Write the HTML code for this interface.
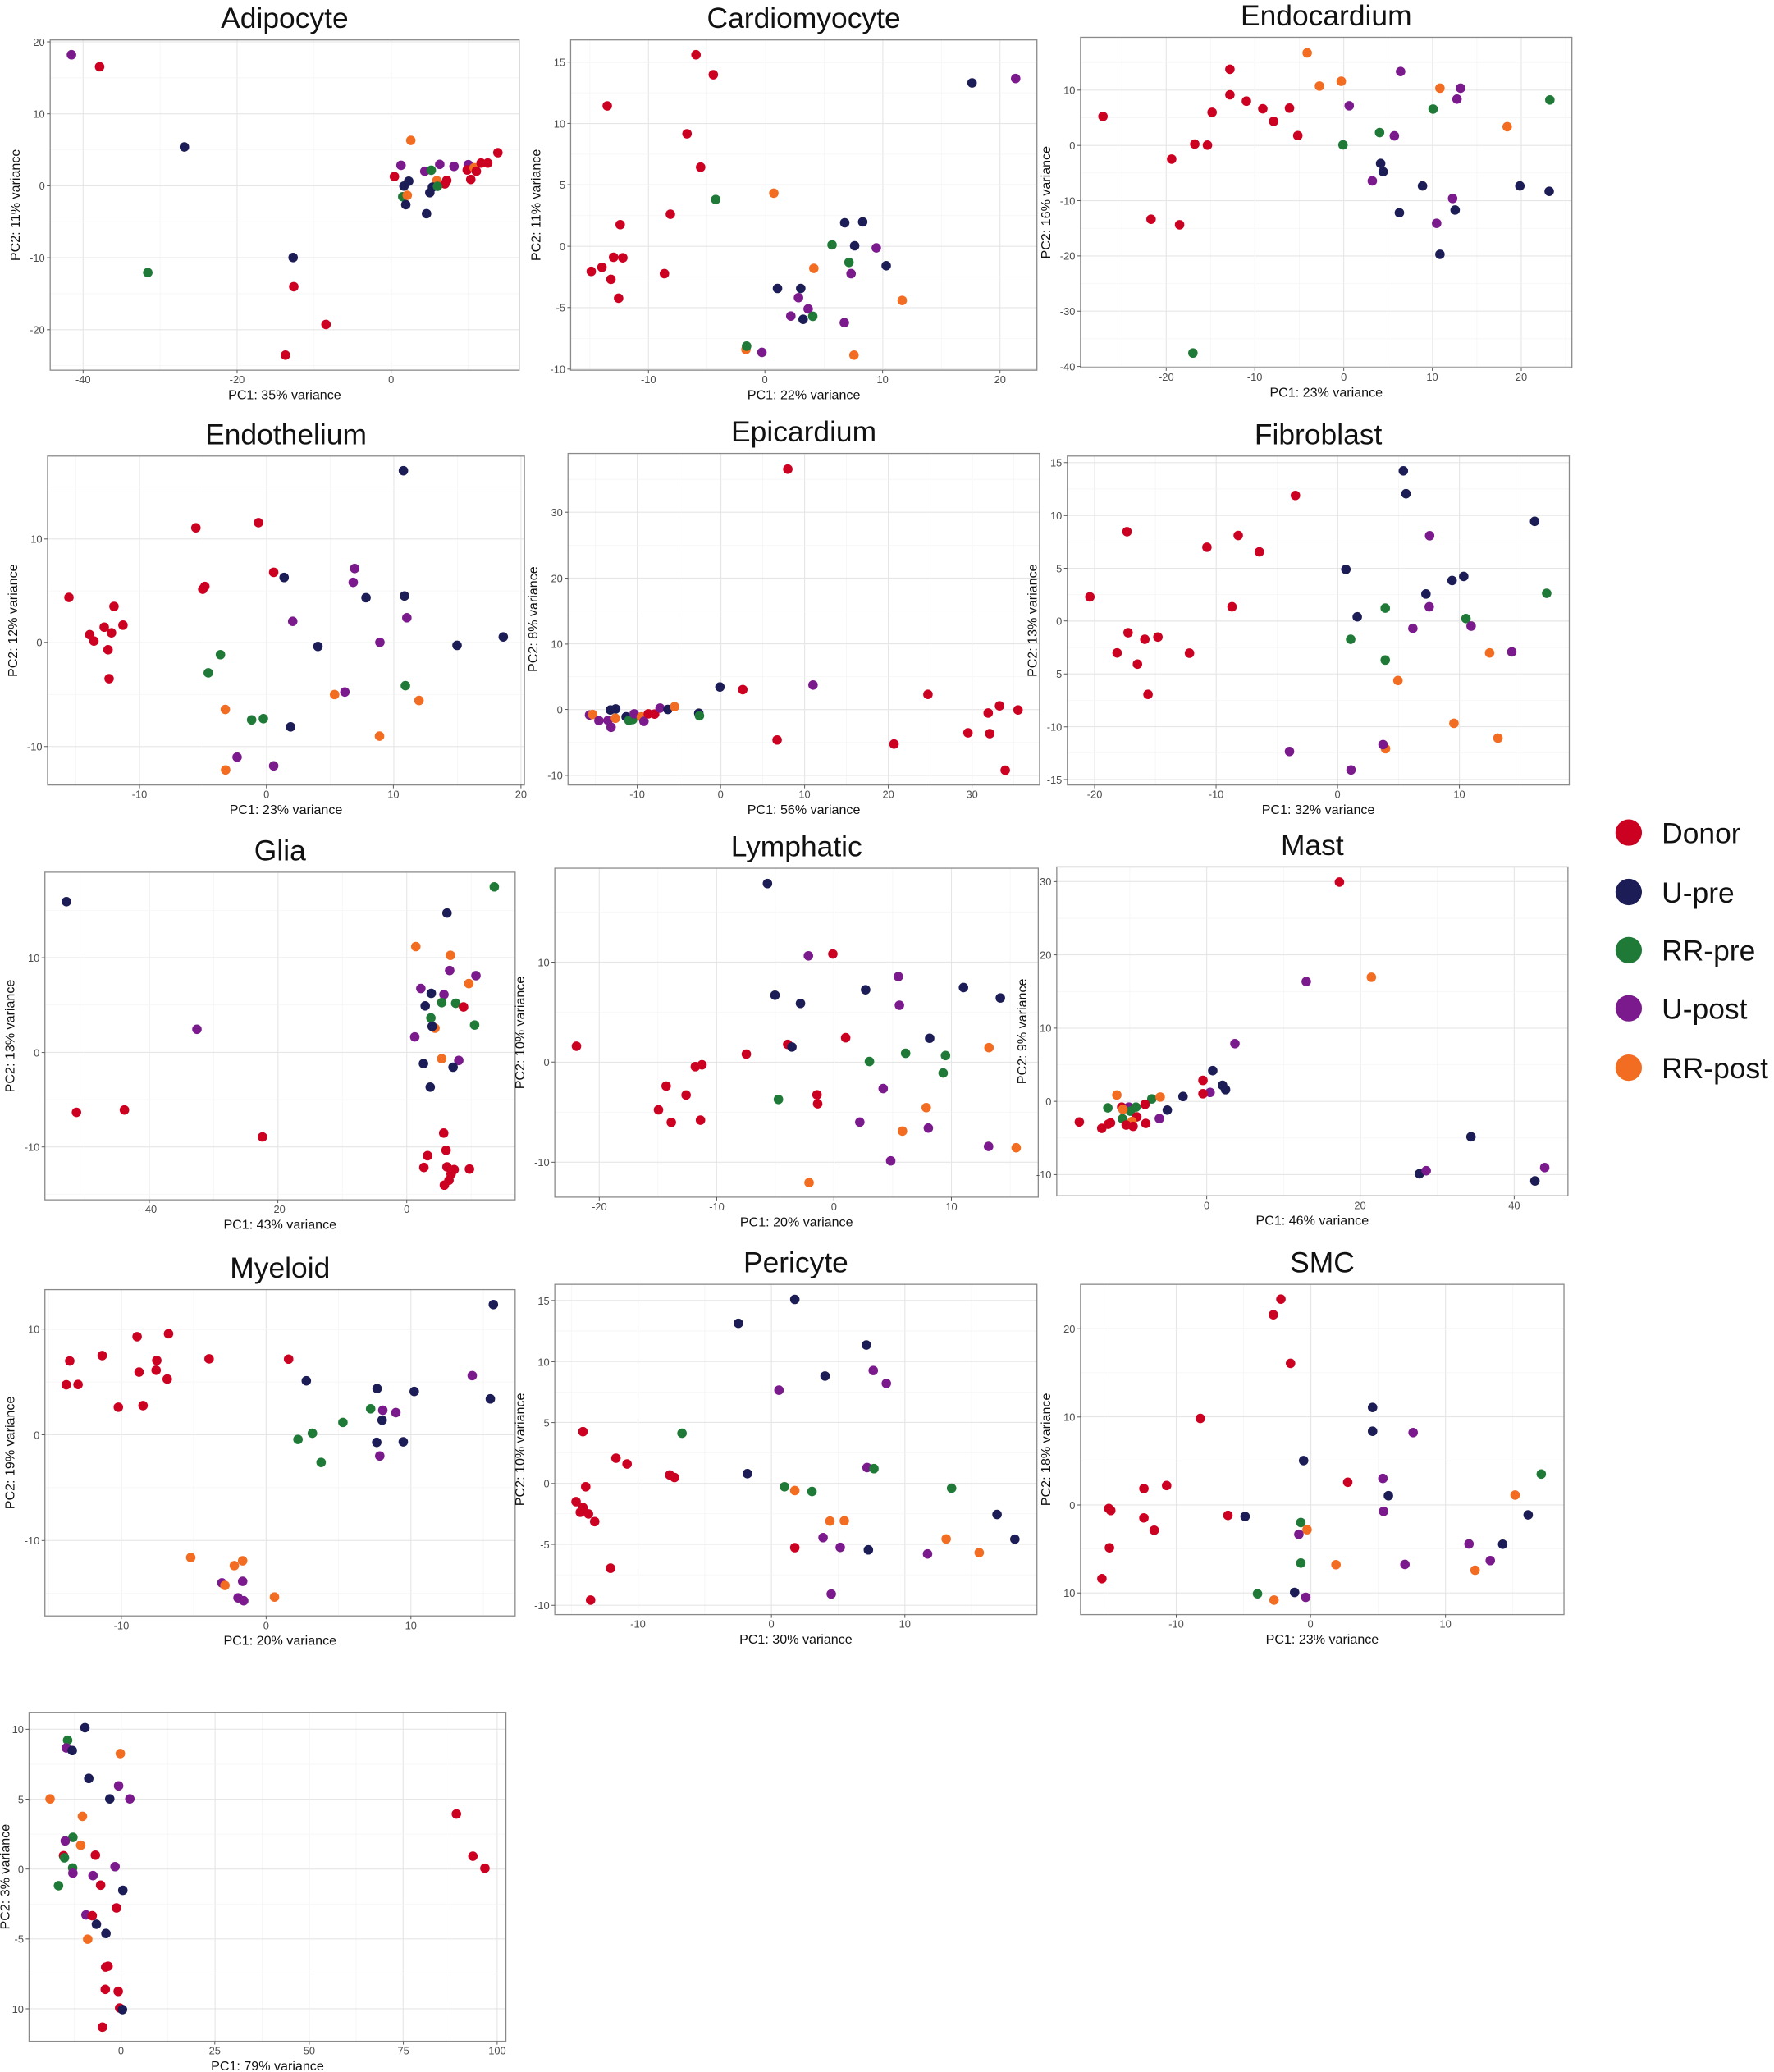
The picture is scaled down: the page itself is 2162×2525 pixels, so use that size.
<!DOCTYPE html>
<html><head><meta charset="utf-8">
<style>
html,body{margin:0;padding:0;background:#fff;}
svg{display:block;font-family:"Liberation Sans",Arial,sans-serif;}
.ti{font-size:22px;fill:#111;text-anchor:middle;}
.xl,.yl{font-size:10px;fill:#111;text-anchor:middle;}
.xt{font-size:8px;fill:#4d4d4d;text-anchor:middle;}
.yt{font-size:8px;fill:#4d4d4d;text-anchor:end;}
.lg{font-size:22px;fill:#111;}
</style></head><body>
<svg id="s" xmlns="http://www.w3.org/2000/svg" width="2162" height="2525" viewBox="0 0 1343 1568">
<rect width="1343" height="1568" fill="#fff"/>
<g id="p0"><text class="ti">Adipocyte</text><text class="xl">PC1: 35% variance</text><text class="yl">PC2: 11% variance</text>
<text class="xt" x="228">-40</text><text class="xt" x="649">-20</text><text class="xt" x="1070">0</text>
<text class="yt" y="152">20</text><text class="yt" y="415">10</text><text class="yt" y="678">0</text><text class="yt" y="941">-10</text><text class="yt" y="1204">-20</text></g>
<g id="p1"><text class="ti">Cardiomyocyte</text><text class="xl">PC1: 22% variance</text><text class="yl">PC2: 11% variance</text>
<text class="xt" x="377">-10</text><text class="xt" x="727">0</text><text class="xt" x="1081">10</text><text class="xt" x="1434">20</text>
<text class="yt" y="226">15</text><text class="yt" y="450">10</text><text class="yt" y="674">5</text><text class="yt" y="899">0</text><text class="yt" y="1123">-5</text><text class="yt" y="1348">-10</text></g>
<g id="p2"><text class="ti">Endocardium</text><text class="xl">PC1: 23% variance</text><text class="yl">PC2: 16% variance</text>
<text class="xt" x="370">-20</text><text class="xt" x="615">-10</text><text class="xt" x="861">0</text><text class="xt" x="1106">10</text><text class="xt" x="1352">20</text>
<text class="yt" y="326">10</text><text class="yt" y="528">0</text><text class="yt" y="730">-10</text><text class="yt" y="932">-20</text><text class="yt" y="1134">-30</text><text class="yt" y="1336">-40</text></g>
<g id="p3"><text class="ti">Endothelium</text><text class="xl">PC1: 23% variance</text><text class="yl">PC2: 12% variance</text>
<text class="xt" x="407">-10</text><text class="xt" x="774">0</text><text class="xt" x="1141">10</text><text class="xt" x="1510">20</text>
<text class="yt" y="474">10</text><text class="yt" y="853">0</text><text class="yt" y="1235">-10</text></g>
<g id="p4"><text class="ti">Epicardium</text><text class="xl">PC1: 56% variance</text><text class="yl">PC2: 8% variance</text>
<text class="xt" x="340">-10</text><text class="xt" x="588">0</text><text class="xt" x="838">10</text><text class="xt" x="1087">20</text><text class="xt" x="1336">30</text>
<text class="yt" y="372">30</text><text class="yt" y="612">20</text><text class="yt" y="852">10</text><text class="yt" y="1090">0</text><text class="yt" y="1330">-10</text></g>
<g id="p5"><text class="ti">Fibroblast</text><text class="xl">PC1: 32% variance</text><text class="yl">PC2: 13% variance</text>
<text class="xt" x="233">-20</text><text class="xt" x="567">-10</text><text class="xt" x="901">0</text><text class="xt" x="1236">10</text>
<text class="yt" y="189">15</text><text class="yt" y="383">10</text><text class="yt" y="576">5</text><text class="yt" y="769">0</text><text class="yt" y="963">-5</text><text class="yt" y="1157">-10</text><text class="yt" y="1350">-15</text></g>
<g id="p6"><text class="ti">Glia</text><text class="xl">PC1: 43% variance</text><text class="yl">PC2: 13% variance</text>
<text class="xt" x="447">-40</text><text class="xt" x="830">-20</text><text class="xt" x="1214">0</text>
<text class="yt" y="471">10</text><text class="yt" y="819">0</text><text class="yt" y="1166">-10</text></g>
<g id="p7"><text class="ti">Lymphatic</text><text class="xl">PC1: 20% variance</text><text class="yl">PC2: 10% variance</text>
<text class="xt" x="259">-20</text><text class="xt" x="600">-10</text><text class="xt" x="940">0</text><text class="xt" x="1281">10</text>
<text class="yt" y="491">10</text><text class="yt" y="857">0</text><text class="yt" y="1224">-10</text></g>
<g id="p8"><text class="ti">Mast</text><text class="xl">PC1: 46% variance</text><text class="yl">PC2: 9% variance</text>
<text class="xt" x="556">0</text><text class="xt" x="964">20</text><text class="xt" x="1374">40</text>
<text class="yt" y="194">30</text><text class="yt" y="463">20</text><text class="yt" y="732">10</text><text class="yt" y="1001">0</text><text class="yt" y="1270">-10</text></g>
<g id="p9"><text class="ti">Myeloid</text><text class="xl">PC1: 20% variance</text><text class="yl">PC2: 19% variance</text>
<text class="xt" x="360">-10</text><text class="xt" x="792">0</text><text class="xt" x="1224">10</text>
<text class="yt" y="304">10</text><text class="yt" y="695">0</text><text class="yt" y="1086">-10</text></g>
<g id="p10"><text class="ti">Pericyte</text><text class="xl">PC1: 30% variance</text><text class="yl">PC2: 10% variance</text>
<text class="xt" x="184">-10</text><text class="xt" x="378">0</text><text class="xt" x="572">10</text>
<text class="yt" y="207">15</text><text class="yt" y="430">10</text><text class="yt" y="652">5</text><text class="yt" y="874">0</text><text class="yt" y="1096">-5</text><text class="yt" y="1318">-10</text></g>
<g id="p11"><text class="ti">SMC</text><text class="xl">PC1: 23% variance</text><text class="yl">PC2: 18% variance</text>
<text class="xt" x="987">-10</text><text class="xt" x="1182">0</text><text class="xt" x="1378">10</text>
<text class="yt" y="305">20</text><text class="yt" y="627">10</text><text class="yt" y="948">0</text><text class="yt" y="1269">-10</text></g>
<g id="p12"><text class="xl">PC1: 79% variance</text><text class="yl">PC2: 3% variance</text>
<text class="xt" x="369">0</text><text class="xt" x="636">25</text><text class="xt" x="905">50</text><text class="xt" x="1173">75</text><text class="xt" x="1440">100</text>
<text class="yt" y="142">10</text><text class="yt" y="398">5</text><text class="yt" y="654">0</text><text class="yt" y="910">-5</text><text class="yt" y="1166">-10</text></g>
<g id="legend">
<circle cx="1233" cy="630" r="10" fill="#cc0020"/><text class="lg" x="1258" y="638">Donor</text>
<circle cx="1233" cy="675" r="10" fill="#1c1c56"/><text class="lg" x="1258" y="683">U-pre</text>
<circle cx="1233" cy="719" r="10" fill="#1f7a37"/><text class="lg" x="1258" y="727">RR-pre</text>
<circle cx="1233" cy="763" r="10" fill="#7a1a8c"/><text class="lg" x="1258" y="771">U-post</text>
<circle cx="1233" cy="808" r="10" fill="#f26c22"/><text class="lg" x="1258" y="816">RR-post</text>
</g>
</svg>
<script>
(function(){
var NS='http://www.w3.org/2000/svg';
var COL={r:'#cc0020',n:'#1c1c56',g:'#1f7a37',p:'#7a1a8c',o:'#f26c22'};
var C=[
{D:[38,30,393,280],Z:[138,145,1420,1352],pts:"p196,199 r273,243 n505,536 o1124,512 r1362,557 p1097,603 p1162,625 g1180,621 p1203,600 p1242,607 p1281,601 r1278,620 o1297,612 r1303,625 r1316,595 r1334,595 r1079,644 n1118,661 n1105,679 o1195,659 r1222,658 r1217,671 r1288,655 n1183,683 g1197,680 n1176,703 g1102,718 o1114,713 n1110,747 n1167,780 n802,940 g405,995 r804,1047 r892,1185 r781,1297"},
{D:[432,30,785,280],Z:[143,145,1545,1352],pts:"r520,199 r572,272 r253,386 n1350,302 p1481,286 r493,488 r534,610 o754,705 g579,728 r443,782 r292,820 n967,813 n1021,810 g929,894 n997,897 p1062,905 r272,939 r300,941 g980,958 o874,980 n1092,970 p986,999 r205,991 r237,976 r264,1020 r425,999 r287,1089 n765,1053 n835,1053 p828,1087 o1140,1097 p857,1128 p805,1154 n842,1166 g871,1155 p966,1178 o670,1276 g672,1264 p718,1287 o995,1297"},
{D:[818,28,1190,278],Z:[133,133,1492,1340],pts:"o760,190 r546,250 p1018,258 o794,311 o854,294 o1127,319 p1184,319 r546,343 r592,366 p1174,359 g1431,362 p876,383 r637,394 r711,392 g1108,395 r195,422 r497,407 r667,440 o1313,460 g960,481 p1001,493 r734,492 r449,523 r484,527 g859,526 r385,578 n963,594 n970,624 p940,658 n1079,676 n1348,676 n1429,696 p1162,722 n1015,774 n1169,764 r328,798 r407,818 p1118,813 n1127,926 g444,1287"},
{D:[36,345,397,594],Z:[141,170,1520,1376],pts:"n1170,224 r751,414 r570,433 p1029,582 r795,596 n825,615 p1025,633 r596,648 r590,658 n1062,689 n1173,683 r203,688 r333,721 p1180,763 p850,776 r359,790 r305,797 r263,825 r326,818 r275,848 p1102,853 n1325,864 n1459,833 n923,868 r316,880 g641,898 g606,965 r319,986 g1176,1012 p1001,1035 o971,1044 o1215,1066 o655,1099 g731,1137 g765,1133 n844,1163 o1101,1197 p689,1274 p795,1306 o656,1321"},
{D:[430,343,787,594],Z:[134,158,1537,1365],pts:"r788,215 p863,1001 n586,1008 r654,1018 r1205,1035 r1418,1077 r1473,1092 r1384,1103 r1324,1175 r1389,1178 r756,1201 r1104,1216 r1435,1311 p198,1110 o207,1108 p226,1131 n260,1092 n276,1088 p253,1130 p262,1155 o275,1122 n307,1117 g315,1130 g326,1127 p331,1106 o352,1117 p360,1133 r373,1106 r392,1107 p408,1085 n431,1090 o451,1080 n523,1104 g525,1113"},
{D:[808,345,1188,594],Z:[158,165,1538,1370],pts:"n1082,219 n1089,303 r785,309 r322,442 n1443,404 r628,456 p1154,457 r542,499 r686,516 n924,580 n1216,621 n1248,606 n1144,670 g1476,668 r220,681 r611,717 g1032,722 p1153,717 n955,754 g1254,760 p1268,788 p1108,796 r325,812 r371,836 r407,828 g937,836 r295,886 r494,887 o1319,886 p1380,882 r351,927 g1032,912 o1067,987 r380,1038 o1221,1144 o1342,1198 o1033,1237 p1026,1222 p769,1247 p938,1315"},
{D:[34,660,390,908],Z:[136,157,1537,1360],pts:"n200,265 g1475,211 n1334,307 o1241,430 o1344,462 p1342,518 p1420,537 o1399,566 p1256,584 n1287,602 p1325,606 g1318,636 g1360,638 r1383,652 n1269,648 g1286,692 o1298,730 n1290,723 g1416,718 p589,734 p1238,762 o1318,842 p1369,848 n1264,860 n1352,873 n1284,946 r230,1039 r373,1030 r784,1129 r1324,1115 r1331,1178 r1276,1198 r1265,1241 r1334,1239 r1355,1249 r1401,1247 r1346,1265 r1340,1288 r1326,1306"},
{D:[420,657,786,906],Z:[130,147,1533,1352],pts:"n747,203 p866,468 r937,461 p1127,544 n1032,592 n1316,584 n769,612 n843,642 p1130,649 n1423,622 r974,768 n1218,770 r193,799 r806,792 n818,802 o1390,804 r686,828 g1148,825 g1264,833 g1043,855 r538,874 r557,867 g1257,897 r453,945 p1083,954 r511,978 r891,977 g779,994 r893,1010 r431,1032 o1208,1024 r553,1070 r468,1078 p1015,1077 p1214,1099 o1139,1110 p1389,1166 o1469,1171 p1105,1219 o868,1299"},
{D:[800,656,1187,905],Z:[157,140,1517,1348],pts:"r909,196 p821,561 o994,545 p631,789 n572,888 r546,924 n598,942 n606,958 p565,968 r546,973 n493,983 o317,978 g410,992 o432,985 r392,1012 g293,1025 r330,1022 p349,1022 g368,1022 g353,1037 o333,1030 n451,1033 r370,1058 p430,1064 g332,1065 o357,1075 r217,1077 r300,1080 r294,1085 r277,1100 r342,1088 r360,1093 r394,1082 n1259,1131 n1122,1267 p1140,1256 p1455,1244 n1429,1293"},
{D:[34,976,390,1223],Z:[132,158,1535,1365],pts:"n1470,213 r501,321 r407,332 r303,402 r206,422 r466,420 r622,414 r859,415 r464,456 r413,463 r497,489 p1407,476 r196,510 r231,509 n912,495 n1123,524 n1234,535 n1461,562 r351,593 r425,587 g1104,599 p1140,604 p1179,613 n1138,641 g1021,649 g930,689 g887,712 n1122,723 n1201,721 p1131,773 g956,797 o567,1149 o722,1161 o697,1179 p722,1237 p660,1243 o669,1252 o817,1295 p708,1298 p725,1309"},
{D:[420,972,785,1222],Z:[63,148,764,1352],pts:"n412,203 n330,290 n516,369 p526,462 n456,482 p545,509 p389,534 r104,685 g248,691 r152,782 r168,803 r230,843 r237,852 n343,838 p517,816 g527,820 r108,886 g397,886 o412,900 g437,903 g640,891 r94,940 r104,962 r100,979 r112,985 r121,1013 n706,987 o463,1011 o484,1010 p453,1071 o632,1076 n732,1077 r412,1108 p478,1107 n519,1116 p605,1131 o680,1126 r144,1183 p465,1277 r115,1299"},
{D:[818,972,1184,1222],Z:[848,143,1550,1348],pts:"r1139,197 r1128,254 r1153,431 r1022,632 n1272,592 n1272,679 p1331,684 n1172,786 g1517,835 r973,877 r940,888 r1236,865 p1287,851 o1479,912 n1295,914 r889,961 r892,968 r1062,986 n1087,990 p1288,971 n1498,984 r940,995 g1168,1012 o1177,1038 r955,1040 p1165,1055 p1412,1090 n1461,1091 r890,1104 p1443,1151 g1168,1160 o1219,1166 p1319,1165 o1421,1186 r879,1217 n1159,1267 g1105,1272 p1175,1285 o1129,1295"},
{D:[22,1296,383,1545],Z:[107,80,1465,1285],yo:15,pts:"n266,136 g217,182 p213,210 n230,220 o367,231 n277,322 p362,349 o167,397 n337,397 p394,397 r1324,452 o259,461 g232,538 p210,551 o254,567 r205,605 g208,613 r296,603 r1371,607 r1405,651 g231,650 p352,645 p232,669 p289,678 g191,715 r311,713 n374,732 r356,796 p269,822 r287,825 n299,856 n326,890 o274,911 r325,1013 r332,1010 r324,1095 r361,1102 r365,1163 n373,1169 r316,1233"}
];
function el(t,a){var e=document.createElementNS(NS,t);for(var k in a)e.setAttribute(k,a[k]);return e;}
C.forEach(function(c,i){
 var g=document.getElementById('p'+i);
 var X0=c.D[0],Y0=c.D[1],X1=c.D[2],Y1=c.D[3];
 var a=c.Z[0],b=c.Z[1],cc=c.Z[2],d=c.Z[3];
 var mx=function(z){return X0+(z-a)*(X1-X0)/(cc-a);};
 var my=function(z){return Y0+(z-b)*(Y1-Y0)/(d-b);};
 var bg=el('g',{});
 g.insertBefore(bg,g.firstChild);
 bg.appendChild(el('rect',{x:X0,y:Y0,width:X1-X0,height:Y1-Y0,fill:'#fff'}));
 var xs=[].map.call(g.querySelectorAll('.xt'),function(t){return mx(+t.getAttribute('x'));});
 var ys=[].map.call(g.querySelectorAll('.yt'),function(t){return my(+t.getAttribute('y'));});
 function grid(arr,isX){
  if(arr.length<2)return;
  var st=(arr[arr.length-1]-arr[0])/(arr.length-1);
  var lo=isX?X0:Y0,hi=isX?X1:Y1;
  for(var v=arr[0]-Math.ceil((arr[0]-lo)/st)*st-st/2; v<=hi; v+=st/2){
   if(v<lo||v>hi)continue;
   var maj=arr.some(function(m){return Math.abs(m-v)<0.5;});
   var L=isX?el('line',{x1:v,x2:v,y1:Y0,y2:Y1}):el('line',{x1:X0,x2:X1,y1:v,y2:v});
   L.setAttribute('stroke',maj?'#e6e6e6':'#f3f3f3');L.setAttribute('stroke-width',maj?0.7:0.4);
   bg.appendChild(L);
  }
 }
 grid(xs,true);grid(ys,false);
 var re=/([rnpgo])(\d+),(\d+)/g,m;
 while((m=re.exec(c.pts))){
  bg.appendChild(el('circle',{cx:mx(+m[2]).toFixed(1),cy:my(+m[3]).toFixed(1),r:3.6,fill:COL[m[1]]}));
 }
 bg.appendChild(el('rect',{x:X0,y:Y0,width:X1-X0,height:Y1-Y0,fill:'none',stroke:'#8a8a8a','stroke-width':0.8}));
 g.querySelectorAll('.xt').forEach(function(t){var x=mx(+t.getAttribute('x'));t.setAttribute('x',x.toFixed(1));t.setAttribute('y',Y1+10);
   bg.appendChild(el('line',{x1:x,x2:x,y1:Y1,y2:Y1+2.5,stroke:'#555','stroke-width':0.6}));});
 g.querySelectorAll('.yt').forEach(function(t){var y=my(+t.getAttribute('y'));t.setAttribute('y',(y+3).toFixed(1));t.setAttribute('x',X0-4);
   bg.appendChild(el('line',{x1:X0-2.5,x2:X0,y1:y,y2:y,stroke:'#555','stroke-width':0.6}));});
 var ti=g.querySelector('.ti');if(ti){ti.setAttribute('x',(X0+X1)/2);ti.setAttribute('y',Y0-9);}
 var xl=g.querySelector('.xl');xl.setAttribute('x',(X0+X1)/2);xl.setAttribute('y',Y1+22);
 var yl=g.querySelector('.yl');var cy=(Y0+Y1)/2,cx=X0-(c.yo||23);yl.setAttribute('x',cx);yl.setAttribute('y',cy);yl.setAttribute('transform','rotate(-90 '+cx+' '+cy+')');
});
})();
</script>
</body></html>
